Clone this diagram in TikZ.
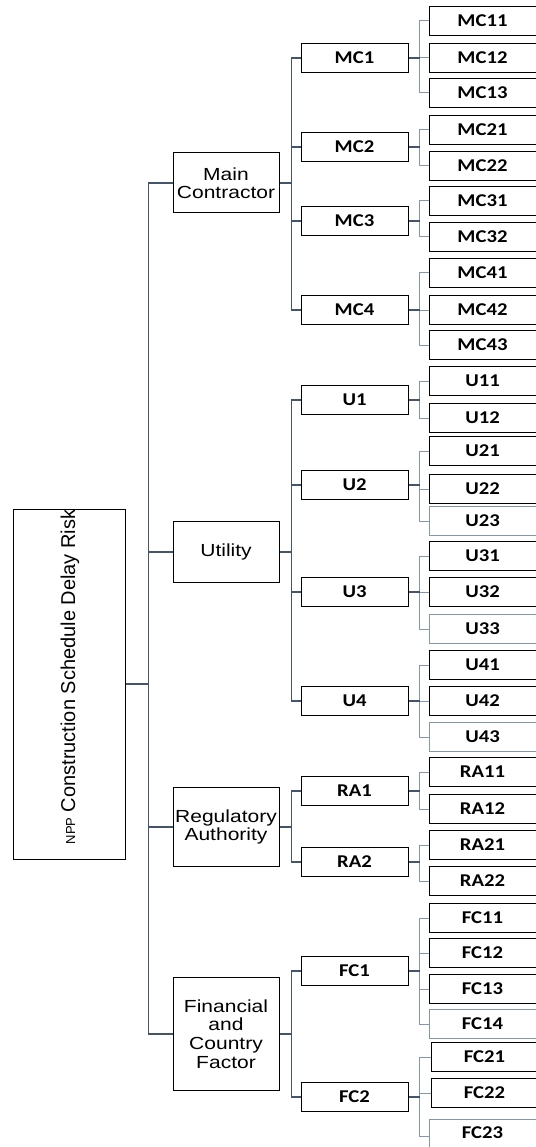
\documentclass[tikz,border=0pt]{standalone}
\usepackage{fontspec}
\newfontfamily\arialx[FakeStretch=1.2]{Liberation Sans}
\newfontfamily\arialr{Liberation Sans}
\newfontfamily\calx[FakeStretch=1.15]{Carlito}
\definecolor{trunkc}{HTML}{44546A}
\definecolor{branchc}{HTML}{8497B0}
\tikzset{
  rootbox/.style={draw=black, line width=1pt, minimum width=112pt, minimum height=350pt, inner sep=0pt},
  lvone/.style={draw=black, line width=1pt, minimum width=106pt, align=center, inner sep=0pt,
     font=\arialx\fontsize{17.5}{17.5}\selectfont},
  lvtwo/.style={draw=black, line width=1pt, minimum width=107pt, minimum height=29pt, inner sep=0pt,
     font=\calx\bfseries\fontsize{18}{20}\selectfont},
  lvthree/.style={draw=black, line width=1pt, minimum width=107pt, minimum height=29pt, inner sep=0pt,
     font=\calx\bfseries\fontsize{18}{20}\selectfont},
  lvthreel/.style={lvthree, draw=branchc},
  trunk/.style={draw=trunkc, line width=1.6pt},
  mid/.style={draw=trunkc, line width=1.2pt},
  twig/.style={draw=branchc, line width=1pt},
}
\begin{document}
\begin{tikzpicture}[x=1pt,y=-1pt]
\useasboundingbox (0,0) rectangle (535,1147);
% root
\node[rootbox] (root) at (69,684) {};
\node[rotate=90, font=\arialr\fontsize{20}{20}\selectfont] (roottext) at (70,677)
  {{\fontsize{13}{13}\selectfont NPP} Construction Schedule Delay Risk};
% level 1
\node[lvone, minimum height=60pt] (MC) at (226,183) {Main\\Contractor};
\node[lvone, minimum height=61pt] (U) at (226,552) {Utility};
\node[lvone, minimum height=79pt] (RA) at (226,827) {Regulatory\\Authority};
\node[lvone, minimum height=113pt, font=\arialx\fontsize{17.5}{18.7}\selectfont] (FC) at (226,1034) {Financial\\and\\Country\\Factor};
% level 2
\foreach \n/\y in {MC1/58, MC2/147, MC3/221, MC4/310, U1/400, U2/485, U3/592, U4/701,
                   RA1/791, RA2/862, FC1/971, FC2/1097}
  \node[lvtwo] (\n) at (354.5,\y) {\n};
% level 3
\foreach \n/\y in {MC11/21, MC12/58, MC13/93, MC21/130, MC22/166, MC31/201, MC32/237,
                   MC41/273, MC42/310, MC43/345, U11/381, U12/418, U21/451, U22/489,
                   U31/556, U32/592, U41/665, U42/701, RA11/772, RA12/809, RA21/845, RA22/881,
                   FC11/918, FC12/953, FC13/989}
  \node[lvthree] (\n) at (482.5,\y) {\n};
\foreach \n/\y in {U23/521, U33/629, U43/737, FC14/1024}
  \node[lvthreel] (\n) at (482.5,\y) {\n};
\node[lvthree] (FC21) at (484.5,1057) {FC21};
\node[lvthree] (FC22) at (484.5,1093) {FC22};
\node[lvthreel, minimum height=34pt, text depth=0pt] (FC23) at (482.5,1136) {};
\node[font=\calx\bfseries\fontsize{18}{20}\selectfont] (FC23t) at (482.5,1133) {FC23};
% root connectors
\foreach \c in {MC, U, RA, FC}
  \draw[trunk] (root.east) -- ++(23,0) |- (\c.west);
% level 1 -> level 2
\foreach \p/\cs in {MC/{MC1,MC2,MC3,MC4}, U/{U1,U2,U3,U4}, RA/{RA1,RA2}, FC/{FC1,FC2}} {
  \foreach \c in \cs
    \draw[mid] (\p.east) -- ++(12,0) |- (\c.west);
}
% level 2 -> level 3
\foreach \p/\cs in {MC1/{MC11,MC12,MC13}, MC2/{MC21,MC22}, MC3/{MC31,MC32}, MC4/{MC41,MC42,MC43},
                    U1/{U11,U12}, U2/{U21,U22,U23}, U3/{U31,U32,U33}, U4/{U41,U42,U43},
                    RA1/{RA11,RA12}, RA2/{RA21,RA22}, FC1/{FC11,FC12,FC13,FC14}, FC2/{FC21,FC22,FC23}} {
  \foreach \c in \cs {
    \draw[twig] (\p.east) ++(11,0) |- (\c.west);
  }
  \draw[mid] (\p.east) -- ++(11,0);
}
\end{tikzpicture}
\end{document}
